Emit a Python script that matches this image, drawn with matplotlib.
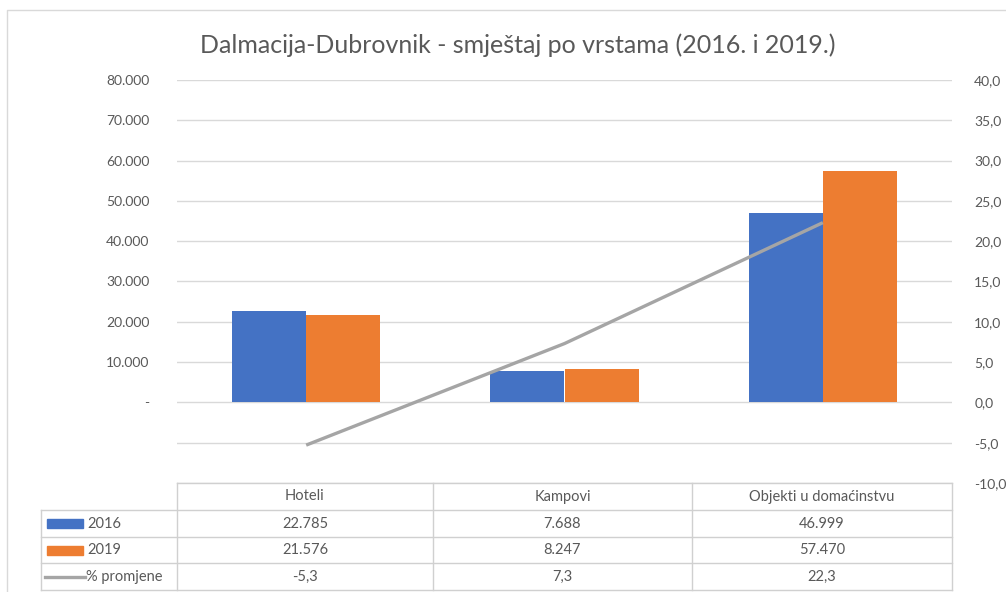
import matplotlib
matplotlib.use("Agg")
import matplotlib.pyplot as plt
import numpy as np
from matplotlib.lines import Line2D
from matplotlib.patches import Rectangle

plt.rcParams['font.family'] = ['Lato', 'DejaVu Sans']

# data
categories = ["Hoteli", "Kampovi", "Objekti u domaćinstvu"]
v2016 = [22785, 7688, 46999]
v2019 = [21576, 8247, 57470]
pct = [-5.3, 7.3, 22.3]

blue = "#4472C4"
orange = "#ED7D31"
grey = "#A5A5A5"
txt = "#595959"
grid = "#D9D9D9"

W, H = 1006, 592
fig = plt.figure(figsize=(W / 100, H / 100), dpi=100)


def fx(px):
    return px / W


def fy(py):
    return 1 - py / H


# plot area in pixels
L, R, T, B = 177, 952, 80, 483
ax = fig.add_axes([fx(L), fy(B), fx(R) - fx(L), fy(T) - fy(B)])
ax2 = ax.twinx()

x = np.arange(len(categories))
bw = 0.287
ax.bar(x - bw / 2, v2016, bw, color=blue, lw=0, zorder=3)
ax.bar(x + bw / 2, v2019, bw, color=orange, lw=0, zorder=3)
ax2.plot(x, pct, color=grey, lw=2.4, solid_capstyle="butt", zorder=4)

ax.set_xlim(-0.5, 2.5)
ax.set_ylim(-20000, 80000)
ax2.set_ylim(-10, 40)
ax.set_xticks([])

lticks = np.arange(-20000, 80001, 10000)
ax.set_yticks(lticks)


def lfmt(v):
    if v > 0:
        return f"{int(v):,}".replace(",", ".")
    if v == 0:
        return "-"
    return ""


ax.set_yticklabels([lfmt(v) for v in lticks])
rticks = np.arange(-10, 41, 5)
ax2.set_yticks(rticks)
ax2.set_yticklabels([f"{v:.1f}".replace(".", ",") for v in rticks])

for a in (ax, ax2):
    for s in a.spines.values():
        s.set_visible(False)
    a.tick_params(length=0, colors=txt, labelsize=10)
ax.tick_params(axis="y", pad=20)
ax2.tick_params(axis="y", pad=16)
ax.grid(axis="y", color=grid, lw=1, zorder=0)
ax.set_axisbelow(True)

# overlay for table, title and border in pixel coords
ov = fig.add_axes([0, 0, 1, 1], zorder=10)
ov.set_xlim(0, W)
ov.set_ylim(H, 0)
ov.axis("off")
ov.patch.set_alpha(0)

# chart border
ov.add_line(Line2D([7, 7, W], [H, 10, 10], color=grid, lw=1))

ov.text(518, 45, "Dalmacija-Dubrovnik - smještaj po vrstama (2016. i 2019.)",
        ha="center", va="center", fontsize=18, color=txt)

# table grid
cols = [177, 433, 692, 952]
rows = [483, 510, 537, 563, 590]
lc = "#D0D0D0"
ov.add_line(Line2D([L, R], [483, 483], color=lc, lw=1))
for yy in rows[1:]:
    ov.add_line(Line2D([41, R], [yy, yy], color=lc, lw=1))
for xx in cols:
    ov.add_line(Line2D([xx, xx], [483, 590], color=lc, lw=1))
ov.add_line(Line2D([41, 41], [510, 590], color=lc, lw=1))

centers = [(cols[i] + cols[i + 1]) / 2 for i in range(3)]
rc = [(rows[i] + rows[i + 1]) / 2 for i in range(4)]


def nfmt(v):
    return f"{v:,}".replace(",", ".")


for i, c in enumerate(categories):
    ov.text(centers[i], rc[0], c, ha="center", va="center", fontsize=10.5, color=txt)
    ov.text(centers[i], rc[1], nfmt(v2016[i]), ha="center", va="center", fontsize=10.5, color=txt)
    ov.text(centers[i], rc[2], nfmt(v2019[i]), ha="center", va="center", fontsize=10.5, color=txt)
    ov.text(centers[i], rc[3], f"{pct[i]:.1f}".replace(".", ","), ha="center", va="center",
            fontsize=10.5, color=txt)

# legend keys
ov.add_patch(Rectangle((47, rc[1] - 4.5), 36, 9, color=blue))
ov.add_patch(Rectangle((47, rc[2] - 4.5), 36, 9, color=orange))
ov.add_line(Line2D([45, 85], [rc[3], rc[3]], color=grey, lw=2.4))
ov.text(87, rc[1], "2016", ha="left", va="center", fontsize=10.5, color=txt)
ov.text(87, rc[2], "2019", ha="left", va="center", fontsize=10.5, color=txt)
ov.text(86, rc[3], "% promjene", ha="left", va="center", fontsize=10.5, color=txt)

fig.savefig("out.png", dpi=100, facecolor="white")
